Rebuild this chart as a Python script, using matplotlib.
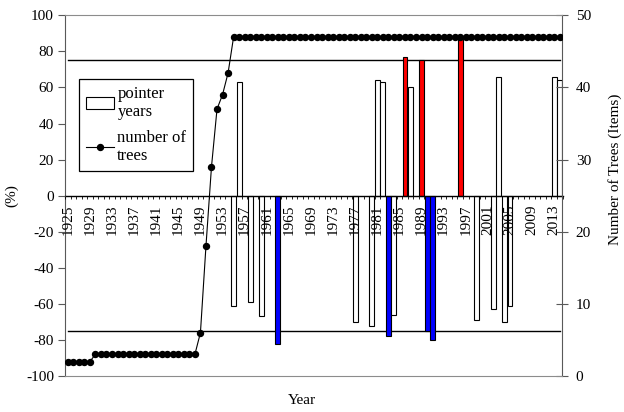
import numpy as np
import matplotlib
matplotlib.use("Agg")
import matplotlib.pyplot as plt
from matplotlib.patches import Patch
from matplotlib.lines import Line2D

plt.rcParams["font.family"] = ["Liberation Serif", "DejaVu Serif"]
plt.rcParams["font.size"] = 11
plt.rcParams["axes.unicode_minus"] = False

# Years on the category axis
years = list(range(1925, 2015))

# Number of trees per year (right axis)
tree_counts = [
    2, 2, 2, 2, 2, 3, 3, 3, 3, 3,        # 1925-1934
    3, 3, 3, 3, 3, 3, 3, 3, 3, 3,        # 1935-1944
    3, 3, 3, 3, 6, 18, 29, 37, 39, 42,   # 1945-1954
    47, 47, 47, 47, 47, 47, 47, 47, 47, 47,  # 1955-1964
    47, 47, 47, 47, 47, 47, 47, 47, 47, 47,  # 1965-1974
    47, 47, 47, 47, 47, 47, 47, 47, 47, 47,  # 1975-1984
    47, 47, 47, 47, 47, 47, 47, 47, 47, 47,  # 1985-1994
    47, 47, 47, 47, 47, 47, 47, 47, 47, 47,  # 1995-2004
    47, 47, 47, 47, 47, 47, 47, 47, 47, 47,  # 2005-2014
]

# Pointer years (left axis, %)
pointer_years = [1955, 1956, 1958, 1960, 1963, 1977, 1980, 1981, 1982, 1983,
                 1984, 1986, 1987, 1989, 1990, 1991, 1996, 1999, 2002, 2003,
                 2004, 2005, 2013, 2014]
pointer_values = [-61, 63, -59, -67, -82, -70, -72, 64, 63, -78,
                  -66, 77, 60, 75, -75, -80, 87, -69, -63, 66,
                  -70, -61, 66, 64]
pointer_kind = ["w", "w", "w", "w", "b", "w", "w", "w", "w", "b",
                "w", "r", "w", "r", "b", "b", "r", "w", "w", "w",
                "w", "w", "w", "w"]
kind_colors = {"w": "white", "r": "#FF0000", "b": "#0000FF"}

threshold = 75
tick_labels = [str(y) for y in years[::4]]

fig = plt.figure(figsize=(6.24, 4.12), dpi=100)
ax = fig.add_axes([65 / 624, 1 - 376 / 412, (562.5 - 65) / 624, (376 - 15.3) / 412])
ax.set_axisbelow(False)

idx = np.arange(len(years))
bar_x = [years.index(y) for y in pointer_years]
ax.bar(bar_x, pointer_values, width=0.88,
       color=[kind_colors[k] for k in pointer_kind],
       edgecolor="black", linewidth=0.8, zorder=2)

# Thresholds
ax.plot([0, len(years) - 1], [threshold, threshold], color="black", lw=1, zorder=1)
ax.plot([0, len(years) - 1], [-threshold, -threshold], color="black", lw=1, zorder=1)

ax.set_xlim(-0.5, len(years) - 0.5)
ax.set_ylim(-100, 100)
ax.set_yticks(np.arange(-100, 101, 20))

# Category axis drawn through zero
ax.spines["bottom"].set_position(("data", 0))
ax.spines["bottom"].set_color("black")
ax.spines["bottom"].set_linewidth(1)
ax.spines["top"].set_visible(False)
ax.spines["right"].set_visible(False)
ax.spines["left"].set_color("#595959")
ax.set_xticks(idx[::4])
ax.set_xticklabels(tick_labels, rotation=90, va="top", ha="center")
ax.set_xticks(np.arange(-0.5, len(years), 1), minor=True)
ax.tick_params(axis="x", which="major", length=0, pad=6.5)
ax.tick_params(axis="x", which="minor", length=2.5, direction="out", color="black")
ax.tick_params(axis="y", direction="out", length=5, color="#595959", pad=3)

# Number of trees on secondary axis
ax2 = ax.twinx()
ax2.plot(idx, tree_counts, color="black", lw=0.8, marker="o", ms=4.3, zorder=3)
ax2.set_ylim(0, 50)
ax2.set_yticks(np.arange(0, 51, 10))
ax2.spines["left"].set_visible(False)
ax2.spines["top"].set_color("#8c8c8c")
ax2.spines["bottom"].set_color("#8c8c8c")
ax2.spines["right"].set_color("#595959")
ax2.tick_params(axis="y", direction="inout", length=9, color="#595959", pad=5)

fig.text(12 / 624, 1 - 196 / 412, "(%)", rotation=90, ha="center", va="center")
fig.text(302 / 624, 1 - 400 / 412, "Year", ha="center", va="center")
fig.text(615 / 624, 1 - 169 / 412, "Number of Trees (Items)", rotation=90,
         ha="center", va="center")

handles = [Patch(facecolor="white", edgecolor="black", linewidth=0.8),
           Line2D([], [], color="black", lw=0.8, marker="o", ms=4.3)]
leg = ax.legend(handles, ["pointer\nyears", "number of\ntrees"],
                loc="upper left", bbox_to_anchor=(79 / 624, 1 - 79 / 412),
                bbox_transform=fig.transFigure, borderaxespad=0,
                fancybox=False, framealpha=1, edgecolor="black",
                handlelength=1.7, handletextpad=0.2, labelspacing=0.6,
                borderpad=0.4, fontsize=12)
leg.get_frame().set_linewidth(0.9)
leg.set_zorder(5)

fig.savefig("out.png", dpi=100)
